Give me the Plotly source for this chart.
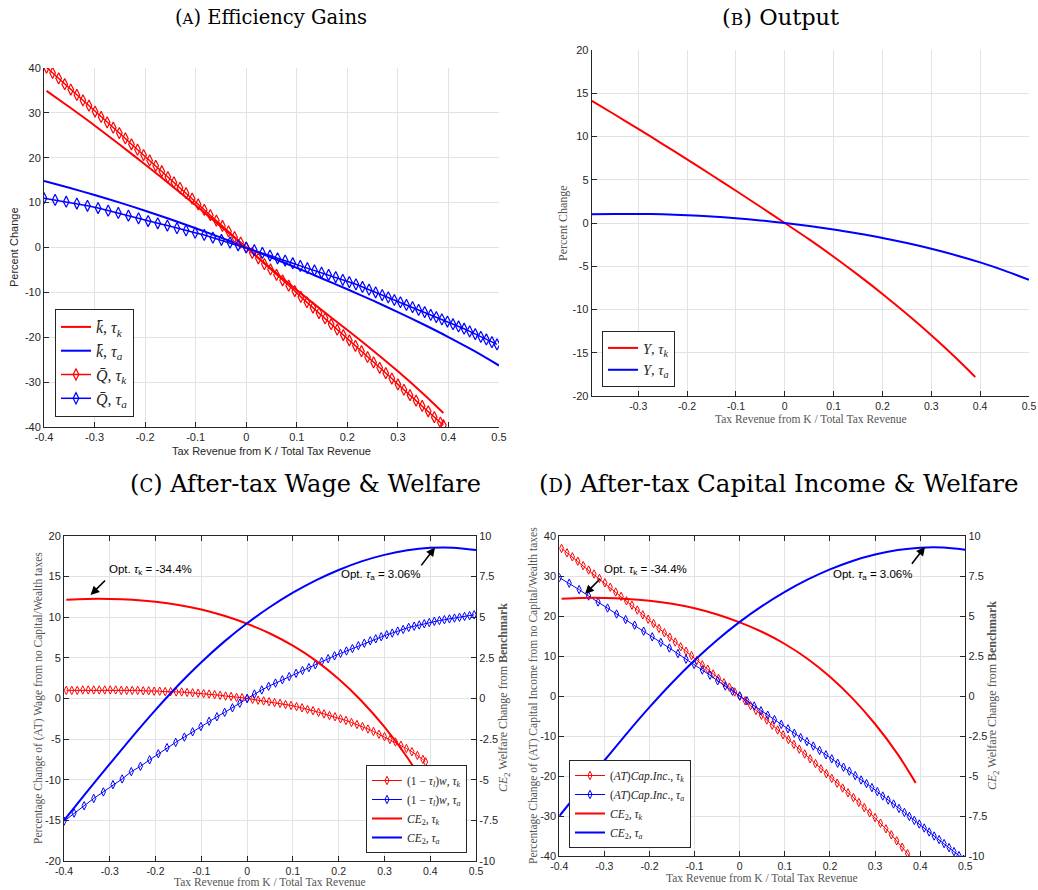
import plotly.graph_objects as go

# ---------------- data ----------------
# x grid of the tau_k experiments (marker series)
xk = [-0.395, -0.383, -0.371, -0.359, -0.347, -0.335, -0.323, -0.311, -0.299, -0.287,
      -0.275, -0.263, -0.251, -0.239, -0.227, -0.215, -0.203, -0.191, -0.179, -0.167,
      -0.155, -0.143, -0.131, -0.119, -0.107, -0.095, -0.083, -0.071, -0.059, -0.047,
      -0.035, -0.023, -0.011, 0.000,
      0.012, 0.024, 0.036, 0.048, 0.060, 0.072,
      0.084, 0.096, 0.108, 0.120, 0.132, 0.144, 0.156, 0.168, 0.180, 0.192,
      0.204, 0.216, 0.228, 0.240, 0.252, 0.264, 0.276, 0.288, 0.300, 0.312,
      0.324, 0.336, 0.348, 0.360, 0.372, 0.384, 0.390]
# x grid of the tau_a experiments (marker series)
xa = [-0.400, -0.378, -0.356, -0.335, -0.314, -0.293, -0.273, -0.253, -0.233, -0.213,
      -0.194, -0.175, -0.156, -0.137, -0.119, -0.101, -0.083, -0.066, -0.049, -0.032,
      -0.016, 0.000,
      0.016, 0.032, 0.047, 0.062, 0.077, 0.092, 0.107, 0.121,
      0.135, 0.149, 0.163, 0.177, 0.191, 0.204, 0.217, 0.230, 0.243, 0.256,
      0.269, 0.281, 0.293, 0.305, 0.317, 0.329, 0.341, 0.353, 0.365, 0.376,
      0.387, 0.398, 0.409, 0.420, 0.431, 0.442, 0.453, 0.464, 0.475, 0.486,
      0.496]
# x grids for the solid lines
xk_line = [-0.395, -0.35, -0.3, -0.25, -0.2, -0.15, -0.1, -0.05, 0.0,
           0.05, 0.1, 0.15, 0.2, 0.25, 0.3, 0.35, 0.39]
xa_line = [-0.4, -0.35, -0.3, -0.25, -0.2, -0.15, -0.1, -0.05, 0.0,
           0.05, 0.1, 0.15, 0.2, 0.25, 0.3, 0.35, 0.4, 0.45, 0.5]

# Panel A: efficiency gains
a_kbar_tk = [34.9, 31.3, 27.2, 22.9, 18.5, 14.0, 9.4, 4.7, 0.0,
             -4.8, -9.5, -14.0, -18.4, -22.9, -27.6, -32.6, -36.9]
a_kbar_ta = [14.8, 13.3, 11.7, 10.0, 8.2, 6.3, 4.3, 2.2, 0.0,
             -2.25, -4.55, -6.9, -9.3, -11.8, -14.4, -17.1, -19.95, -23.0, -26.3]
a_qbar_tk = [40.1, 38.9, 37.7, 36.4, 35.2, 34.0, 32.8, 31.6, 30.3, 29.1,
             27.9, 26.7, 25.5, 24.3, 23.0, 21.8, 20.6, 19.4, 18.2, 17.0,
             15.7, 14.5, 13.3, 12.1, 10.9, 9.6, 8.4, 7.2, 6.0, 4.8,
             3.6, 2.3, 1.1, 0.0,
             -1.2, -2.4, -3.7, -4.9, -6.1, -7.3,
             -8.5, -9.7, -11.0, -12.2, -13.4, -14.6, -15.8, -17.1, -18.3, -19.5,
             -20.7, -21.9, -23.1, -24.4, -25.6, -26.8, -28.0, -29.2, -30.5, -31.7,
             -32.9, -34.1, -35.3, -36.5, -37.8, -39.0, -39.6]
a_qbar_ta = [11.0, 10.6, 10.2, 9.8, 9.3, 8.8, 8.2, 7.7, 7.1, 6.5,
             5.9, 5.4, 4.9, 4.3, 3.8, 3.3, 2.8, 2.2, 1.7, 1.1,
             0.5, 0.0,
             -0.6, -1.2, -1.8, -2.4, -2.9, -3.5, -4.1, -4.6,
             -5.1, -5.6, -6.1, -6.6, -7.2, -7.7, -8.2, -8.8, -9.4, -10.0,
             -10.6, -11.1, -11.7, -12.2, -12.8, -13.3, -13.9, -14.4, -15.0, -15.5,
             -16.0, -16.5, -17.1, -17.6, -18.1, -18.7, -19.3, -19.9, -20.5, -21.1,
             -21.6]

# Panel B: output
b_y_tk = [14.13, 12.6, 10.88, 9.13, 7.35, 5.55, 3.73, 1.88, 0.0,
          -1.9, -3.9, -6.0, -8.2, -10.53, -12.98, -15.58, -17.8]
b_y_ta = [1.0, 1.05, 1.05, 1.0, 0.9, 0.75, 0.55, 0.3, 0.0,
          -0.35, -0.75, -1.22, -1.73, -2.32, -2.98, -3.72, -4.55, -5.5, -6.58]

# Panel C: after-tax wage (left axis) and welfare (right axis)
c_wage_tk = [1.0, 1.0, 1.0, 1.05, 1.05, 1.05, 1.05, 1.05, 1.05, 1.05,
             1.0, 1.0, 1.0, 1.0, 0.95, 0.95, 0.9, 0.9, 0.85, 0.85,
             0.8, 0.8, 0.75, 0.7, 0.65, 0.6, 0.55, 0.48, 0.4, 0.3,
             0.25, 0.15, 0.1, 0.0,
             -0.1, -0.2, -0.3, -0.4, -0.5, -0.6,
             -0.75, -0.85, -1.0, -1.15, -1.35, -1.5, -1.7, -1.9, -2.1, -2.25,
             -2.5, -2.7, -2.95, -3.2, -3.45, -3.75, -4.05, -4.4, -4.7, -5.05,
             -5.35, -5.75, -6.15, -6.55, -7.0, -7.5, -7.8]
c_wage_ta = [-15.1, -14.1, -13.2, -12.3, -11.5, -10.6, -9.9, -9.0, -8.35, -7.55,
             -6.8, -6.05, -5.4, -4.75, -4.1, -3.45, -2.8, -2.25, -1.7, -1.15,
             -0.58, 0.0,
             0.55, 1.05, 1.5, 1.9, 2.3, 2.7, 3.1, 3.45,
             3.8, 4.15, 4.55, 4.9, 5.25, 5.55, 5.85, 6.15, 6.5, 6.8,
             7.1, 7.35, 7.6, 7.85, 8.05, 8.3, 8.5, 8.75, 8.9, 9.05,
             9.2, 9.35, 9.5, 9.6, 9.7, 9.8, 9.9, 10.0, 10.1, 10.2,
             10.3]
# Welfare CE2 (same in panels C and D, right axis)
ce2_tk = [6.08, 6.13, 6.13, 6.07, 5.95, 5.76, 5.48, 5.09, 4.6,
          4.0, 3.25, 2.33, 1.2, -0.15, -1.75, -3.63, -5.43]
ce2_ta = [-7.5, -5.75, -4.03, -2.33, -0.7, 0.83, 2.23, 3.5, 4.63,
          5.63, 6.51, 7.27, 7.91, 8.44, 8.84, 9.12, 9.27, 9.28, 9.14]

# Panel D: after-tax capital income (left axis)
d_cap_tk = [36.9, 35.8, 34.8, 33.7, 32.6, 31.5, 30.5, 29.4, 28.3, 27.2,
            26.0, 24.9, 23.8, 22.7, 21.5, 20.3, 19.2, 18.1, 16.9, 15.8,
            14.7, 13.5, 12.3, 11.2, 10.1, 8.9, 7.8, 6.7, 5.5, 4.4,
            3.3, 2.2, 1.0, 0.0,
            -1.2, -2.4, -3.6, -4.8, -6.0, -7.3,
            -8.5, -9.7, -10.9, -12.1, -13.3, -14.5, -15.7, -16.9, -18.2, -19.4,
            -20.6, -21.8, -23.0, -24.2, -25.4, -26.6, -27.9, -29.2, -30.4, -31.8,
            -33.2, -34.7, -36.2, -37.8, -39.4, -41.1, -42.0]
d_cap_ta = [29.6, 28.2, 26.6, 25.0, 23.5, 22.0, 20.5, 19.1, 17.7, 16.2,
            14.8, 13.4, 12.0, 10.6, 9.2, 7.9, 6.5, 5.2, 3.8, 2.5,
            1.2, 0.0,
            -1.2, -2.5, -3.7, -4.8, -5.9, -7.1, -8.2, -9.3,
            -10.4, -11.4, -12.5, -13.6, -14.7, -15.7, -16.8, -17.8, -18.8, -19.9,
            -21.0, -21.9, -22.9, -23.9, -25.0, -26.0, -27.0, -28.1, -29.1, -30.1,
            -31.1, -32.0, -33.0, -34.0, -35.0, -35.9, -36.9, -37.9, -38.9, -39.9,
            -40.8]

# tick labels
x_tickvals = [-0.4, -0.3, -0.2, -0.1, 0.0, 0.1, 0.2, 0.3, 0.4, 0.5]
x_ticktext = ["-0.4", "-0.3", "-0.2", "-0.1", "0", "0.1", "0.2", "0.3", "0.4", "0.5"]
y40_vals = [-40, -30, -20, -10, 0, 10, 20, 30, 40]
y40_text = ["-40", "-30", "-20", "-10", "0", "10", "20", "30", "40"]
y20_vals = [-20, -15, -10, -5, 0, 5, 10, 15, 20]
y20_text = ["-20", "-15", "-10", "-5", "0", "5", "10", "15", "20"]
y10_vals = [-10, -7.5, -5, -2.5, 0, 2.5, 5, 7.5, 10]
y10_text = ["-10", "-7.5", "-5", "-2.5", "0", "2.5", "5", "7.5", "10"]

# ---------------- figure ----------------
RED = "#ff0000"
BLUE = "#0000ff"
SANS = "Liberation Sans, Arial, sans-serif"
SERIF = "Liberation Serif, Times New Roman, serif"
TSERIF = "DejaVu Serif, serif"

fig = go.Figure()


def line(x, y, name, color, xax, yax, legend, width=2.0):
    fig.add_trace(go.Scatter(x=x, y=y, name=name, mode="lines",
                             line=dict(color=color, width=width, shape="spline", smoothing=0.8),
                             xaxis=xax, yaxis=yax, legend=legend))


def mline(x, y, name, color, xax, yax, legend, width=1.0, msize=6, mlw=1.0):
    fig.add_trace(go.Scatter(x=x, y=y, name=name, mode="lines+markers",
                             line=dict(color=color, width=width),
                             marker=dict(symbol="diamond-tall-open", size=msize, color=color,
                                         line=dict(color=color, width=mlw)),
                             xaxis=xax, yaxis=yax, legend=legend))


tk = "<i>τ<sub>k</sub></i>"
ta = "<i>τ<sub>a</sub></i>"

# Panel A
line(xk_line, a_kbar_tk, "<i>k̄</i>, " + tk, RED, "x", "y", "legend")
line(xa_line, a_kbar_ta, "<i>k̄</i>, " + ta, BLUE, "x", "y", "legend")
mline(xk, a_qbar_tk, "<i>Q̄</i>, " + tk, RED, "x", "y", "legend", width=1.5, msize=8, mlw=1.2)
mline(xa, a_qbar_ta, "<i>Q̄</i>, " + ta, BLUE, "x", "y", "legend", width=1.5, msize=8, mlw=1.2)

# Panel B
line(xk_line, b_y_tk, "<i>Y</i>, " + tk, RED, "x2", "y2", "legend2")
line(xa_line, b_y_ta, "<i>Y</i>, " + ta, BLUE, "x2", "y2", "legend2")

# Panel C
mline(xk, c_wage_tk, "(1 − <i>τ<sub>l</sub></i>)<i>w</i>, " + tk, RED, "x3", "y3", "legend3", msize=6)
mline(xa, c_wage_ta, "(1 − <i>τ<sub>l</sub></i>)<i>w</i>, " + ta, BLUE, "x3", "y3", "legend3", msize=6)
line(xk_line, ce2_tk, "<i>CE</i><sub>2</sub>, " + tk, RED, "x3", "y4", "legend3")
line(xa_line, ce2_ta, "<i>CE</i><sub>2</sub>, " + ta, BLUE, "x3", "y4", "legend3")

# Panel D
mline(xk, d_cap_tk, "(<i>AT</i>)<i>Cap</i>.<i>Inc</i>., " + tk, RED, "x4", "y5", "legend4", msize=6)
mline(xa, d_cap_ta, "(<i>AT</i>)<i>Cap</i>.<i>Inc</i>., " + ta, BLUE, "x4", "y5", "legend4", msize=6)
line(xk_line, ce2_tk, "<i>CE</i><sub>2</sub>, " + tk, RED, "x4", "y6", "legend4")
line(xa_line, ce2_ta, "<i>CE</i><sub>2</sub>, " + ta, BLUE, "x4", "y6", "legend4")

axis_common = dict(showgrid=True, gridcolor="#e3e3e3", gridwidth=1, zeroline=False,
                   showline=True, linecolor="#262626", linewidth=1,
                   ticks="inside", ticklen=5, tickcolor="#262626",
                   tickfont=dict(family=SANS, size=11, color="#262626"))
axis_small = dict(axis_common, tickfont=dict(family=SANS, size=10.5, color="#262626"))

H = 890.0
W = 1038.0

leg_common = dict(bgcolor="white", bordercolor="#262626", borderwidth=1, itemwidth=30)

fig.update_layout(
    width=1038, height=890, margin=dict(l=0, r=0, t=0, b=0, autoexpand=False),
    paper_bgcolor="white", plot_bgcolor="white", showlegend=True,
    # Panel A
    xaxis=dict(axis_common, domain=[44 / W, 499 / W], anchor="y", range=[-0.4, 0.5],
               tickmode="array", tickvals=x_tickvals, ticktext=x_ticktext),
    yaxis=dict(axis_common, domain=[1 - 427 / H, 1 - 68 / H], anchor="x", range=[-40, 40],
               tickmode="array", tickvals=y40_vals, ticktext=y40_text),
    # Panel B
    xaxis2=dict(axis_small, domain=[591.7 / W, 1029 / W], anchor="y2", range=[-0.3953, 0.5],
                tickmode="array", tickvals=x_tickvals[1:], ticktext=x_ticktext[1:]),
    yaxis2=dict(axis_common, domain=[1 - 396 / H, 1 - 50 / H], anchor="x2", range=[-20, 20],
                tickmode="array", tickvals=y20_vals, ticktext=y20_text),
    # Panel C
    xaxis3=dict(axis_small, domain=[64 / W, 476 / W], anchor="y3", range=[-0.4, 0.5],
                mirror="ticks", tickmode="array", tickvals=x_tickvals, ticktext=x_ticktext),
    yaxis3=dict(axis_common, domain=[1 - 861 / H, 1 - 536 / H], anchor="x3", range=[-20, 20],
                tickmode="array", tickvals=y20_vals, ticktext=y20_text),
    yaxis4=dict(axis_common, domain=[1 - 861 / H, 1 - 536 / H], anchor="x3", overlaying="y3",
                side="right", range=[-10, 10], showgrid=False,
                tickmode="array", tickvals=y10_vals, ticktext=y10_text),
    # Panel D
    xaxis4=dict(axis_small, domain=[559.3 / W, 965.3 / W], anchor="y5", range=[-0.4, 0.5],
                mirror="ticks", tickmode="array", tickvals=x_tickvals, ticktext=x_ticktext),
    yaxis5=dict(axis_common, domain=[1 - 856 / H, 1 - 536 / H], anchor="x4", range=[-40, 40],
                tickmode="array", tickvals=y40_vals, ticktext=y40_text),
    yaxis6=dict(axis_common, domain=[1 - 856 / H, 1 - 536 / H], anchor="x4", overlaying="y5",
                side="right", range=[-10, 10], showgrid=False,
                tickmode="array", tickvals=y10_vals, ticktext=y10_text),
    legend=dict(leg_common, x=55 / W, y=1 - 417 / H, xanchor="left", yanchor="bottom",
                font=dict(family=SERIF, size=16, color="#262626")),
    legend2=dict(leg_common, x=602 / W, y=1 - 387 / H, xanchor="left", yanchor="bottom",
                 font=dict(family=SERIF, size=14.5, color="#262626")),
    legend3=dict(leg_common, x=467 / W, y=1 - 853 / H, xanchor="right", yanchor="bottom",
                 font=dict(family=SERIF, size=11.5, color="#262626")),
    legend4=dict(leg_common, x=569 / W, y=1 - 848 / H, xanchor="left", yanchor="bottom",
                 font=dict(family=SERIF, size=11.5, color="#262626")),
)

ann = []


def text(px, py, s, size, family=SERIF, color="#000000", angle=0, xanchor="center", yanchor="middle"):
    ann.append(dict(x=px / W, y=1 - py / H, xref="paper", yref="paper", text=s,
                    showarrow=False, textangle=angle, xanchor=xanchor, yanchor=yanchor,
                    font=dict(family=family, size=size, color=color)))


def sc(letter, size):
    return "<span style='font-size:%dpx'>%s</span>" % (size, letter)


# panel titles
text(271, 17, "(" + sc("A", 15) + ") Efficiency Gains", 19.5, family=TSERIF)
text(780, 17, "(" + sc("B", 17) + ") Output", 22.5, family=TSERIF)
text(305, 484, "(" + sc("C", 18) + ") After-tax Wage &amp; Welfare", 24, family=TSERIF)
text(778, 484, "(" + sc("D", 18) + ") After-tax Capital Income &amp; Welfare", 24.5, family=TSERIF)

# axis titles
xt = "Tax Revenue from K / Total Tax Revenue"
text(271.5, 451, xt, 11, family=SANS, color="#262626")
text(14, 247, "Percent Change", 11, family=SANS, color="#262626", angle=-90)
text(811, 419, xt, 11.5, color="#555555")
text(563, 223, "Percent Change", 12, color="#555555", angle=-90)
text(270, 882, xt, 11.5, color="#555555")
text(38, 698, "Percentage Change of (AT) Wage from no Capital/Wealth taxes", 11.5,
     color="#555555", angle=-90)
text(504, 698, "<i>CE</i><sub>2</sub> Welfare Change from <b>Benchmark</b>", 12,
     color="#555555", angle=-90)
text(762, 878, xt, 11.5, color="#555555")
text(533, 696, "Percentage Change of (AT) Capital Income from no Capital/Wealth taxes", 11.5,
     color="#555555", angle=-90)
text(993, 696, "<i>CE</i><sub>2</sub> Welfare Change from <b>Benchmark</b>", 12,
     color="#555555", angle=-90)

# optimum labels
opt_k = "Opt. <i>τ</i><sub>k</sub> = -34.4%"
opt_a = "Opt. <i>τ</i><sub>a</sub> = 3.06%"
text(107, 570, opt_k, 11.5, family=SANS, xanchor="left")
text(339, 575, opt_a, 11.5, family=SANS, xanchor="left")
text(602, 570, opt_k, 11.5, family=SANS, xanchor="left")
text(831, 575, opt_a, 11.5, family=SANS, xanchor="left")


def arrow(xax, yax, tip, tail):
    ann.append(dict(x=tip[0], y=tip[1], ax=tail[0], ay=tail[1], xref=xax, yref=yax,
                    axref=xax, ayref=yax, text="", showarrow=True, arrowhead=2,
                    arrowsize=1.1, arrowwidth=1.6, arrowcolor="#000000", standoff=0))


arrow("x3", "y3", (-0.342, 12.74), (-0.307, 14.7))
arrow("x3", "y3", (0.4105, 18.6), (0.378, 16.2))
arrow("x4", "y5", (-0.343, 25.5), (-0.306, 29.7))
arrow("x4", "y5", (0.4107, 37.3), (0.379, 32.7))

fig.update_layout(annotations=ann)
fig.write_html("out.html", config={"displayModeBar": False},
               post_script="document.body.style.margin='0';document.body.style.overflow='hidden';")
